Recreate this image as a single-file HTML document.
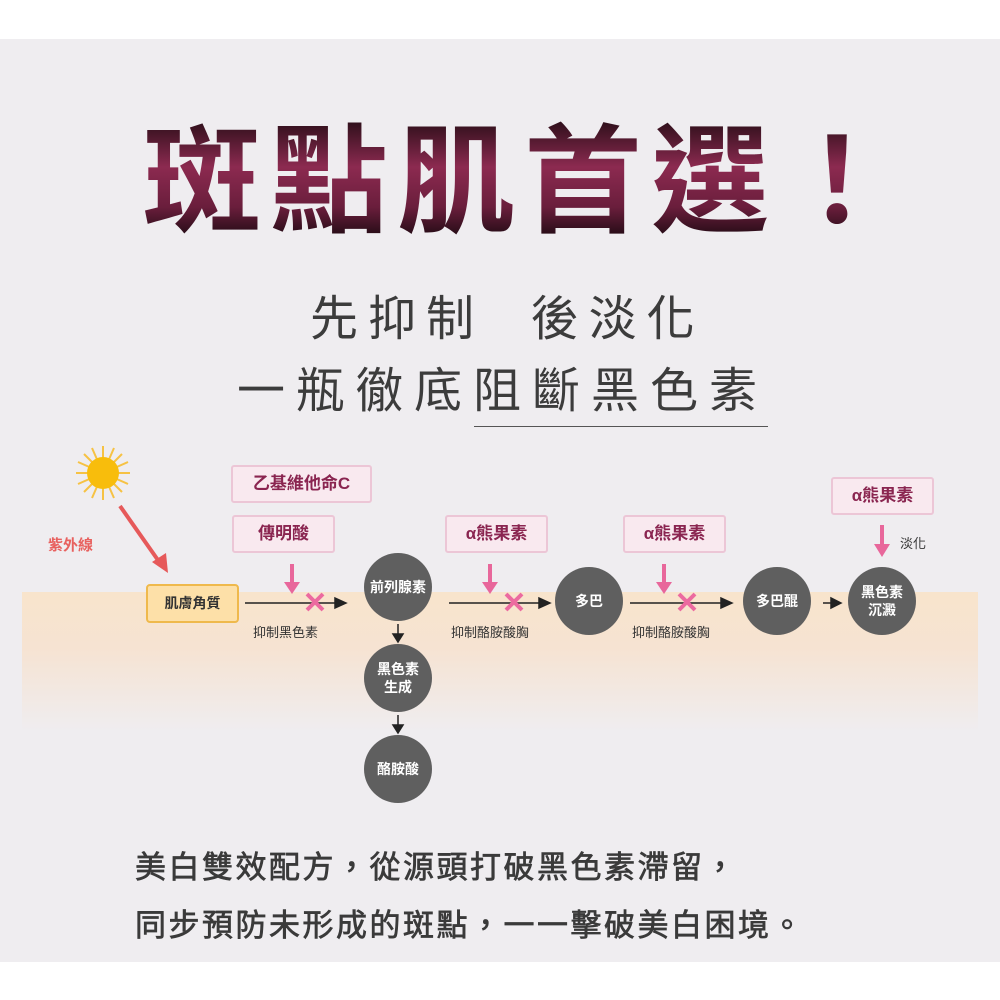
<!DOCTYPE html>
<html><head><meta charset="utf-8"><style>
html,body{margin:0;padding:0}
body{width:1000px;height:1000px;background:#fff;position:relative;overflow:hidden;font-family:"Liberation Sans","Noto Sans CJK TC",sans-serif}
.bg{position:absolute;left:0;top:39px;width:1000px;height:923px;background:#efedf0}
.band{position:absolute;left:22px;top:592px;width:956px;height:140px;background:linear-gradient(#f8e4cc,#f6e3d2 40%,#efedf0)}
.t{position:absolute;white-space:nowrap}
.title{left:143px;top:103px;font-size:118px;font-weight:bold;letter-spacing:9px;background:linear-gradient(#2a0e18 10%,#8c2a50 40%,#6a1e3c 65%,#1e0a12 85%,#9a9098);-webkit-background-clip:text;background-clip:text;color:transparent;line-height:160px}
.sub{font-size:48px;color:#3c3c3c;line-height:60px}
.box{position:absolute;box-sizing:border-box;border:2px solid #ecc6d6;background:#f9e9ef;border-radius:3px;color:#8a2550;font-weight:bold;font-size:17px;text-align:center}
.c{position:absolute;width:68px;height:68px;border-radius:50%;background:#5f5f5f;color:#fff;font-weight:bold;font-size:14px;display:flex;align-items:center;justify-content:center;text-align:center;line-height:18px}
.lbl{position:absolute;font-size:13px;color:#333}
.body{font-size:31px;color:#3a3a3a;font-weight:normal;-webkit-text-stroke:0.7px #3a3a3a;letter-spacing:2.5px}
</style></head><body>
<div class="bg"></div>
<div class="band"></div>
<div class="t title">斑點肌首選！</div>
<div class="t sub" style="left:310px;top:290px;letter-spacing:10px">先抑制&nbsp;&nbsp;後淡化</div>
<div class="t sub" style="left:237px;top:362px;letter-spacing:11px">一瓶徹底阻斷黑色素</div>
<div style="position:absolute;left:474px;top:426px;width:294px;height:1px;background:#555"></div>

<svg width="1000" height="1000" style="position:absolute;left:0;top:0">
<g stroke="#f6c244" stroke-width="2">
<line x1="103" y1="446" x2="103" y2="500"/><line x1="76" y1="473" x2="130" y2="473"/>
<line x1="84" y1="454" x2="122" y2="492"/><line x1="122" y1="454" x2="84" y2="492"/>
<line x1="92" y1="448" x2="114" y2="498"/><line x1="114" y1="448" x2="92" y2="498"/>
<line x1="78" y1="462" x2="128" y2="484"/><line x1="78" y1="484" x2="128" y2="462"/>
</g>
<circle cx="103" cy="473" r="16" fill="#f8bd0c"/>
<line x1="120" y1="506" x2="160" y2="563" stroke="#e6595a" stroke-width="4"/>
<polygon points="168,573 152,562 166,553" fill="#e6595a"/>
<g stroke="#222" stroke-width="1.5" fill="#222">
<line x1="245" y1="603" x2="336" y2="603"/><polygon points="346,603 335,598 335,608"/>
<line x1="449" y1="603" x2="540" y2="603"/><polygon points="550,603 539,598 539,608"/>
<line x1="630" y1="603" x2="722" y2="603"/><polygon points="732,603 721,598 721,608"/>
<line x1="823" y1="603" x2="832" y2="603"/><polygon points="841,603 831,598 831,608"/>
<line x1="398" y1="624" x2="398" y2="635"/><polygon points="398,642 393,634 403,634"/>
<line x1="398" y1="715" x2="398" y2="726"/><polygon points="398,733 393,725 403,725"/>
</g>
<g fill="#e8679b" stroke="#e8679b">
<line x1="292" y1="564" x2="292" y2="584" stroke-width="4"/><polygon points="284,582 300,582 292,594" stroke="none"/>
<line x1="490" y1="564" x2="490" y2="584" stroke-width="4"/><polygon points="482,582 498,582 490,594" stroke="none"/>
<line x1="664" y1="564" x2="664" y2="584" stroke-width="4"/><polygon points="656,582 672,582 664,594" stroke="none"/>
<line x1="882" y1="525" x2="882" y2="546" stroke-width="4"/><polygon points="874,544 890,544 882,557" stroke="none"/>
</g>
<g stroke="#ec6aa0" stroke-width="4">
<line x1="307" y1="594" x2="323" y2="610"/><line x1="323" y1="594" x2="307" y2="610"/>
<line x1="506" y1="594" x2="522" y2="610"/><line x1="522" y1="594" x2="506" y2="610"/>
<line x1="679" y1="594" x2="695" y2="610"/><line x1="695" y1="594" x2="679" y2="610"/>
</g>
</svg>

<div class="t" style="left:48px;top:534px;font-size:15px;font-weight:bold;color:#e8615f">紫外線</div>
<div class="box" style="left:146px;top:584px;width:93px;height:39px;background:#fde0a8;border-color:#efb94c;color:#333;line-height:35px;font-size:14px;border-radius:4px">肌膚角質</div>
<div class="box" style="left:231px;top:465px;width:141px;height:38px;line-height:34px">乙基維他命C</div>
<div class="box" style="left:232px;top:515px;width:103px;height:38px;line-height:34px">傳明酸</div>
<div class="box" style="left:445px;top:515px;width:103px;height:38px;line-height:34px">α熊果素</div>
<div class="box" style="left:623px;top:515px;width:103px;height:38px;line-height:34px">α熊果素</div>
<div class="box" style="left:831px;top:477px;width:103px;height:38px;line-height:34px">α熊果素</div>
<div class="lbl" style="left:253px;top:622px">抑制黑色素</div>
<div class="lbl" style="left:451px;top:622px">抑制酪胺酸胸</div>
<div class="lbl" style="left:632px;top:622px">抑制酪胺酸胸</div>
<div class="lbl" style="left:900px;top:533px">淡化</div>
<div class="c" style="left:364px;top:553px">前列腺素</div>
<div class="c" style="left:364px;top:644px">黑色素<br>生成</div>
<div class="c" style="left:364px;top:735px">酪胺酸</div>
<div class="c" style="left:555px;top:567px">多巴</div>
<div class="c" style="left:743px;top:567px">多巴醌</div>
<div class="c" style="left:848px;top:567px">黑色素<br>沉澱</div>
<div class="t body" style="left:135px;top:842px">美白雙效配方，從源頭打破黑色素滯留，</div>
<div class="t body" style="left:135px;top:900px">同步預防未形成的斑點，一一擊破美白困境。</div>
</body></html>
